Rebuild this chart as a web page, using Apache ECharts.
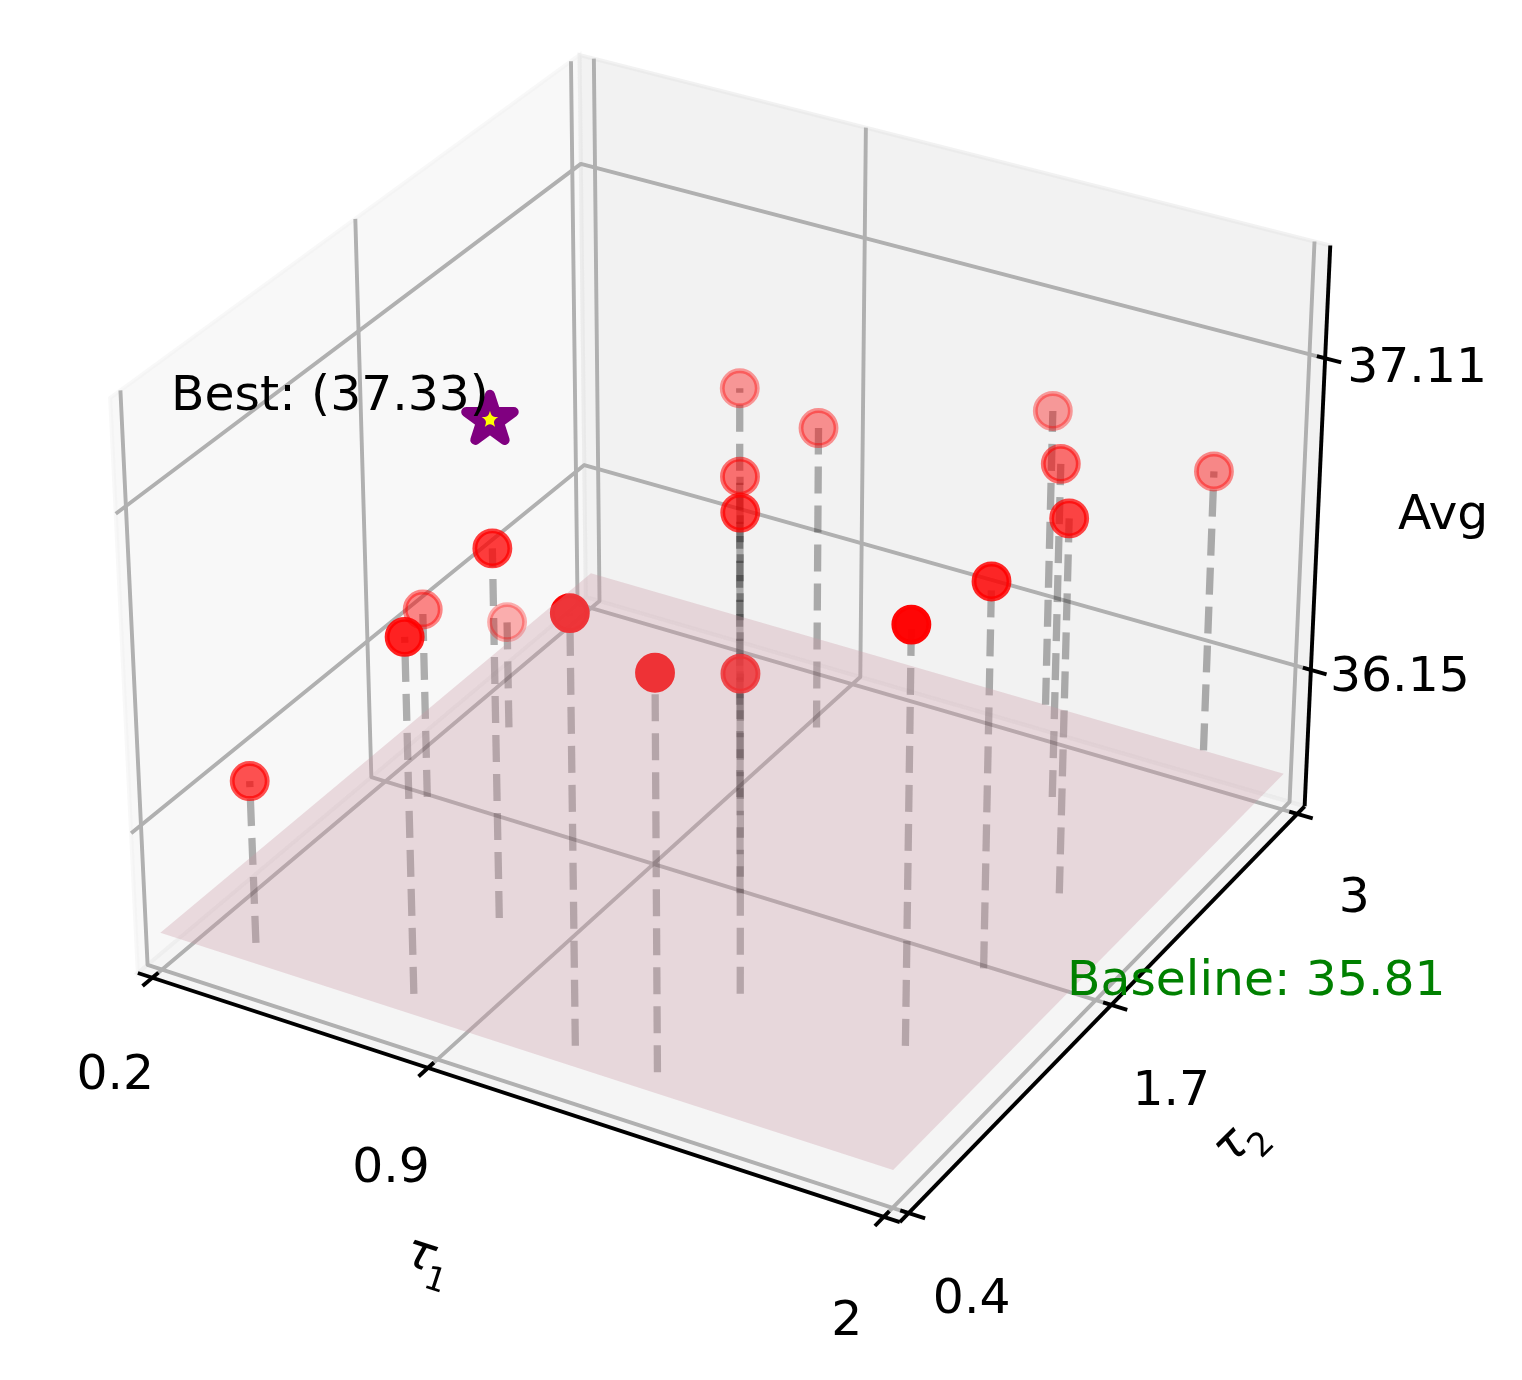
<!doctype html>
<html><head><meta charset="utf-8"><style>html,body{margin:0;background:#fff}#c{width:1522px;height:1380px}</style></head>
<body><div id="c"></div>
<script src="https://cdn.jsdelivr.net/npm/echarts@6/dist/echarts.min.js"></script>
<script>
// ---- data ----
const tau1 = [0.4,0.8,0.4,0.8,0.4,1.2,1.4,1.4,1.2,1.0,0.8,1.0,1.8,1.8,1.8,1.6,1.4,1.8];
const tau2 = [0.5,0.5,1.5,1.0,2.0,0.5,0.5,1.0,1.5,2.0,2.5,2.5,1.0,1.5,2.0,2.5,3.0,3.0];
const avg  = [36.33,36.908,36.42,36.957,36.167,37.12,37.02,36.80,36.994,36.828,36.83,36.774,37.087,37.00,36.977,36.867,36.76,36.708];
const best = {tau1:0.8, tau2:1.0, avg:37.33};
const baselineLabel = 35.81;
const baselineLevel = 35.83;   // height at which the plane appears on the z scale
const tau1Ticks = [0.2,0.9,2];
const tau2Ticks = [0.4,1.7,3];
const avgTicks  = [36.15,37.11];
const tau1Lim = [0.2,2], tau2Lim = [0.4,3];
const avgLim = [35.7147,37.4463];

// ---- 3D view: elevation 30, azimuth -60, distance 10, box 4:4:3 ----
const margin = 1/48;
const pad = l => { const d=(l[1]-l[0])*margin; return [l[0]-d,l[1]+d]; };
const xl = pad(tau1Lim), yl = pad(tau2Lim), zl = avgLim;
const hx=0.5952, hz=0.4464, dist=10;
const sx=7333, sy=7341, cx=732, cy=610.5;   // view -> canvas scale
const rad=Math.PI/180, el=30*rad, az=-60*rad;
const w=[Math.cos(el)*Math.cos(az),Math.cos(el)*Math.sin(az),Math.sin(el)];
const u=[-Math.sin(az),Math.cos(az),0];
const v=[w[1]*u[2]-w[2]*u[1],w[2]*u[0]-w[0]*u[2],w[0]*u[1]-w[1]*u[0]];
const dot=(a,b)=>a[0]*b[0]+a[1]*b[1]+a[2]*b[2];
const box=(x,y,z)=>[(2*(x-xl[0])/(xl[1]-xl[0])-1)*hx,(2*(y-yl[0])/(yl[1]-yl[0])-1)*hx,(2*(z-zl[0])/(zl[1]-zl[0])-1)*hz];
function project(x,y,z){const p=box(x,y,z);const d=dist-dot(p,w);return [cx+sx*dot(p,u)/d,cy-sy*dot(p,v)/d];}
const depth=(x,y,z)=>dist-dot(box(x,y,z),w);

const [x0,x1]=xl,[y0,y1]=yl,[z0,z1]=zl;
const dx=x1-x0, dy=y1-y0;

// depth shading of the points
const depths=tau1.map((t,i)=>depth(t,tau2[i],avg[i]));
const dMin=Math.min(...depths), dMax=Math.max(...depths);
const shade=d=>1-0.7*(d-dMin)/(dMax-dMin);

// ---- polygons ----
const panes=[
 {c:'rgba(242,242,242,0.5)',p:[[x0,y0,z0],[x0,y1,z0],[x0,y1,z1],[x0,y0,z1]]},
 {c:'rgba(230,230,230,0.5)',p:[[x0,y1,z0],[x1,y1,z0],[x1,y1,z1],[x0,y1,z1]]},
 {c:'rgba(236,236,236,0.5)',p:[[x0,y0,z0],[x1,y0,z0],[x1,y1,z0],[x0,y1,z0]]}
];
const gridLines=[
 ...tau1Ticks.map(t=>[[t,y0,z0],[t,y1,z0],[t,y1,z1]]),
 ...tau2Ticks.map(t=>[[x1,t,z0],[x0,t,z0],[x0,t,z1]]),
 ...avgTicks.map(t=>[[x0,y0,t],[x0,y1,t],[x1,y1,t]])
];
const blackLines=[
 [[x0,y0,z0],[x1,y0,z0]],[[x1,y0,z0],[x1,y1,z0]],[[x1,y1,z0],[x1,y1,z1]],
 ...tau1Ticks.map(t=>[[t,y0+0.0125*dy,z0],[t,y0-0.02*dy,z0]]),
 ...tau2Ticks.map(t=>[[x1-0.0105*dx,t,z0],[x1+0.0205*dx,t,z0]]),
 ...avgTicks.map(t=>[[x1-0.0105*dx,y1,t],[x1+0.0205*dx,y1,t]])
];
const plane=[[tau1Lim[0],tau2Lim[0]],[tau1Lim[1],tau2Lim[0]],[tau1Lim[1],tau2Lim[1]],[tau1Lim[0],tau2Lim[1]]].map(q=>[q[0],q[1],baselineLevel]);

// ---- texts: anchor in data, offset in pixels ----
const F="'DejaVu Sans'", FS=48.8;
const tau1Off=[[-37,99],[-37,101],[-37,105]], tau2Off=[[63,87],[60,87],[57,85]], avgOff=[[89,8],[92,11]];
const texts=[
 ...tau1Ticks.map((t,i)=>({a:[t,y0,z0],o:tau1Off[i],s:String(t)})),
 ...tau2Ticks.map((t,i)=>({a:[x1,t,z0],o:tau2Off[i],s:String(t)})),
 ...avgTicks.map((t,i)=>({a:[x1,y1,t],o:avgOff[i],s:t.toFixed(2)})),
 {a:[0.9,y0,z0],o:[0,197],s:'{t|τ}{s|1}',r:-18},
 {a:[x1,1.7,z0],o:[133,139],s:'{t|τ}{s|2}',r:45},
 {a:[x1,y1,37.11],o:[118,158],s:'Avg'},
 {a:[x1,1.7,z0],o:[145,-23],s:'Baseline: '+baselineLabel.toFixed(2),c:'green'},
 {a:[best.tau1,best.tau2,best.avg],o:[-160,-24],s:'Best: ('+best.avg.toFixed(2)+')'}
];
const tauRich={t:{font:'italic '+FS+'px '+F,verticalAlign:'top',fill:'#000',width:23},s:{font:(FS*0.68)+'px '+F,verticalAlign:'bottom',lineHeight:61,fill:'#000'}};

const idx=a=>a.map((_,i)=>[i,0]);
const toPts=(api,l)=>l.map(p=>api.coord(project(p[0],p[1],p[2])));
function custom(name,z,data,render){return {type:'custom',name,z,coordinateSystem:'cartesian2d',silent:true,clip:false,data:idx(data),renderItem:(pa,api)=>render(data[pa.dataIndex],api)};}

const stems=tau1.map((t,i)=>[[t,tau2[i],baselineLevel],[t,tau2[i],avg[i]]]);

const option={
 animation:false,
 tooltip:{show:false},
 grid:{left:0,top:0,width:1522,height:1380,show:false},
 xAxis:{type:'value',min:0,max:1522,show:false},
 yAxis:{type:'value',min:0,max:1380,inverse:true,show:false},
 series:[
  custom('panes',1,panes,(d,api)=>({type:'polygon',shape:{points:toPts(api,d.p)},style:{fill:d.c,stroke:d.c,lineWidth:4}})),
  custom('grid',2,gridLines,(d,api)=>({type:'polyline',shape:{points:toPts(api,d)},style:{fill:null,stroke:'#b0b0b0',lineWidth:3.9,lineJoin:'round'}})),
  custom('axes',3,blackLines,(d,api)=>({type:'polyline',shape:{points:toPts(api,d)},style:{fill:null,stroke:'#000',lineWidth:3.9,lineCap:'butt'}})),
  custom('stems',4,stems,(d,api)=>({type:'polyline',shape:{points:toPts(api,d)},style:{fill:null,stroke:'rgba(0,0,0,0.3)',lineWidth:7.3,lineDash:[27,12],lineCap:'butt'}})),
  {type:'scatter',name:'Avg',z:5,silent:true,clip:false,symbol:'circle',symbolSize:35,
   data:tau1.map((t,i)=>({value:project(t,tau2[i],avg[i]),itemStyle:{opacity:shade(depths[i])}})),
   itemStyle:{color:'#ff0000',borderColor:'#ff0000',borderWidth:4.9}},
  custom('baseline plane',6,[plane],(d,api)=>({type:'polygon',shape:{points:toPts(api,d)},style:{fill:'rgba(203,153,165,0.327)'}})),
  custom('best',7,[best],(d,api)=>{
    const c=api.coord(project(d.tau1,d.tau2,d.avg)),R=25,pts=[];
    for(let k=0;k<10;k++){const r=k%2?R*0.381966:R,a=-Math.PI/2+k*Math.PI/5;pts.push([c[0]+r*Math.cos(a),c[1]-1.5+r*Math.sin(a)]);}
    return {type:'polygon',shape:{points:pts},style:{fill:'#ffff00',stroke:'#800080',lineWidth:10,lineJoin:'round'}};
  }),
  custom('texts',8,texts,(d,api)=>{
    const c=api.coord(project(d.a[0],d.a[1],d.a[2]));
    return {type:'text',x:c[0]+d.o[0],y:c[1]+d.o[1],rotation:(d.r||0)*rad,
      style:{text:d.s,fill:d.c||'#000',font:FS+'px '+F,align:'center',verticalAlign:'middle',rich:d.r?tauRich:undefined}};
  })
 ]
};
const chart=echarts.init(document.getElementById('c'),null,{renderer:'canvas',width:1522,height:1380});
chart.setOption(option);
</script></body></html>
